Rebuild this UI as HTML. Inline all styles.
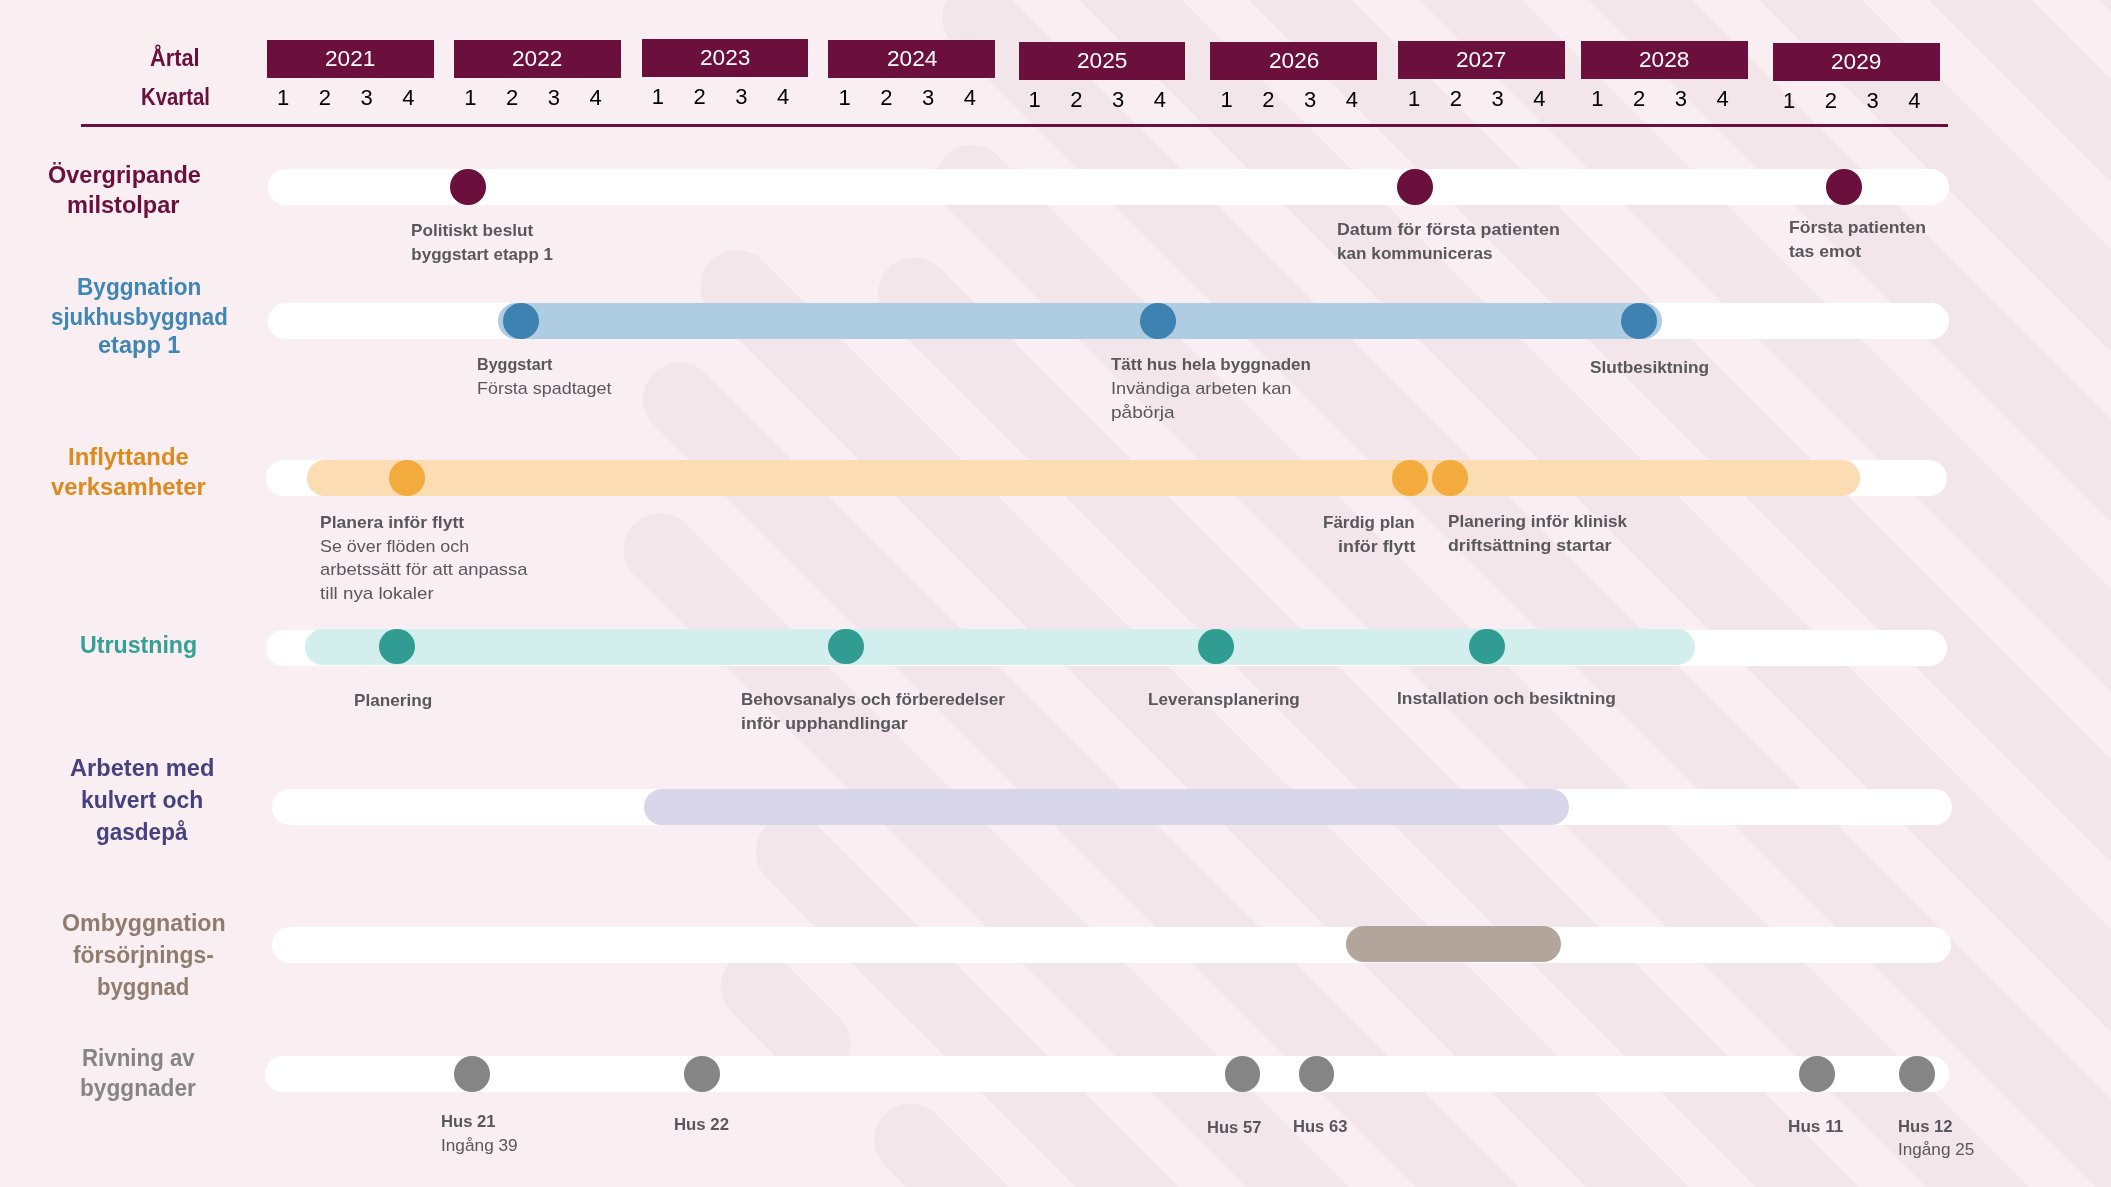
<!DOCTYPE html>
<html lang="sv"><head><meta charset="utf-8"><title>Tidplan</title>
<style>
html,body{margin:0;padding:0}
body{width:2111px;height:1187px;overflow:hidden;background:#f9eef2;font-family:"Liberation Sans",sans-serif}
#c{will-change:transform;position:absolute;left:0;top:0;width:2111px;height:1187px;overflow:hidden;background:#f9eef2}
.bg{position:absolute;left:0;top:0}
.t{position:absolute;line-height:1;white-space:nowrap;transform-origin:0 0;display:block}
.yb{position:absolute;background:#6b0f3c}
.ln{position:absolute;background:#6b0f3c}
.p{position:absolute;border-radius:18px}
.d{position:absolute;border-radius:50%}
</style></head>
<body>
<div id="c">
<svg class="bg" width="2111" height="1187" viewBox="0 0 2111 1187">
<g stroke="#f3e6ea" stroke-width="73.0" stroke-linecap="round" fill="none">
<line x1="757.1" y1="986.6" x2="814.3" y2="1043.8"/>
<line x1="910.6" y1="1140.1" x2="3510.6" y2="3740.1"/>
<line x1="792.4" y1="851.9" x2="3392.4" y2="3451.9"/>
<line x1="660.2" y1="549.7" x2="3260.2" y2="3149.7"/>
<line x1="679.5" y1="399.0" x2="3279.5" y2="2999.0"/>
<line x1="737.0" y1="286.5" x2="3337.0" y2="2886.5"/>
<line x1="914.4" y1="293.9" x2="3514.4" y2="2893.9"/>
<line x1="971.7" y1="181.2" x2="3571.7" y2="2781.2"/>
<line x1="978.7" y1="18.2" x2="3578.7" y2="2618.2"/>
<line x1="1030.5" y1="-100.0" x2="3630.5" y2="2500.0"/>
<line x1="1200.5" y1="-100.0" x2="3800.5" y2="2500.0"/>
<line x1="1370.5" y1="-100.0" x2="3970.5" y2="2500.0"/>
<line x1="1540.5" y1="-100.0" x2="4140.5" y2="2500.0"/>
<line x1="1710.5" y1="-100.0" x2="4310.5" y2="2500.0"/>
<line x1="1880.5" y1="-100.0" x2="4480.5" y2="2500.0"/>
<line x1="2050.5" y1="-100.0" x2="4650.5" y2="2500.0"/>
</g></svg>
<span class="t" style="left:150.40px;top:47.00px;font-size:23px;font-weight:bold;color:#6b0f3c;transform:scaleX(0.9450)">Årtal</span>
<span class="t" style="left:141.00px;top:86.00px;font-size:23px;font-weight:bold;color:#6b0f3c;transform:scaleX(0.8824)">Kvartal</span>
<div class="yb" style="left:266.9px;top:40.1px;width:166.9px;height:37.8px"></div>
<span class="t" style="left:325.15px;top:48.00px;font-size:22px;font-weight:normal;color:#ffffff;transform:scaleX(1.0296)">2021</span>
<span class="t" style="left:276.99px;top:87.00px;font-size:22px;font-weight:normal;color:#000000;transform:scaleX(1.0000)">1</span>
<span class="t" style="left:318.74px;top:87.00px;font-size:22px;font-weight:normal;color:#000000;transform:scaleX(1.0000)">2</span>
<span class="t" style="left:360.49px;top:87.00px;font-size:22px;font-weight:normal;color:#000000;transform:scaleX(1.0000)">3</span>
<span class="t" style="left:402.24px;top:87.00px;font-size:22px;font-weight:normal;color:#000000;transform:scaleX(1.0000)">4</span>
<div class="yb" style="left:454.2px;top:39.8px;width:166.9px;height:38.1px"></div>
<span class="t" style="left:512.45px;top:48.00px;font-size:22px;font-weight:normal;color:#ffffff;transform:scaleX(1.0296)">2022</span>
<span class="t" style="left:464.29px;top:87.00px;font-size:22px;font-weight:normal;color:#000000;transform:scaleX(1.0000)">1</span>
<span class="t" style="left:506.04px;top:87.00px;font-size:22px;font-weight:normal;color:#000000;transform:scaleX(1.0000)">2</span>
<span class="t" style="left:547.79px;top:87.00px;font-size:22px;font-weight:normal;color:#000000;transform:scaleX(1.0000)">3</span>
<span class="t" style="left:589.54px;top:87.00px;font-size:22px;font-weight:normal;color:#000000;transform:scaleX(1.0000)">4</span>
<div class="yb" style="left:641.6px;top:38.6px;width:166.9px;height:38.1px"></div>
<span class="t" style="left:699.85px;top:47.00px;font-size:22px;font-weight:normal;color:#ffffff;transform:scaleX(1.0296)">2023</span>
<span class="t" style="left:651.70px;top:86.00px;font-size:22px;font-weight:normal;color:#000000;transform:scaleX(1.0000)">1</span>
<span class="t" style="left:693.45px;top:86.00px;font-size:22px;font-weight:normal;color:#000000;transform:scaleX(1.0000)">2</span>
<span class="t" style="left:735.20px;top:86.00px;font-size:22px;font-weight:normal;color:#000000;transform:scaleX(1.0000)">3</span>
<span class="t" style="left:776.95px;top:86.00px;font-size:22px;font-weight:normal;color:#000000;transform:scaleX(1.0000)">4</span>
<div class="yb" style="left:828.4px;top:39.8px;width:166.8px;height:38.1px"></div>
<span class="t" style="left:886.60px;top:48.00px;font-size:22px;font-weight:normal;color:#ffffff;transform:scaleX(1.0296)">2024</span>
<span class="t" style="left:838.50px;top:87.00px;font-size:22px;font-weight:normal;color:#000000;transform:scaleX(1.0000)">1</span>
<span class="t" style="left:880.25px;top:87.00px;font-size:22px;font-weight:normal;color:#000000;transform:scaleX(1.0000)">2</span>
<span class="t" style="left:922.00px;top:87.00px;font-size:22px;font-weight:normal;color:#000000;transform:scaleX(1.0000)">3</span>
<span class="t" style="left:963.75px;top:87.00px;font-size:22px;font-weight:normal;color:#000000;transform:scaleX(1.0000)">4</span>
<div class="yb" style="left:1018.5px;top:42.1px;width:166.9px;height:37.8px"></div>
<span class="t" style="left:1076.75px;top:50.00px;font-size:22px;font-weight:normal;color:#ffffff;transform:scaleX(1.0296)">2025</span>
<span class="t" style="left:1028.60px;top:89.00px;font-size:22px;font-weight:normal;color:#000000;transform:scaleX(1.0000)">1</span>
<span class="t" style="left:1070.35px;top:89.00px;font-size:22px;font-weight:normal;color:#000000;transform:scaleX(1.0000)">2</span>
<span class="t" style="left:1112.10px;top:89.00px;font-size:22px;font-weight:normal;color:#000000;transform:scaleX(1.0000)">3</span>
<span class="t" style="left:1153.85px;top:89.00px;font-size:22px;font-weight:normal;color:#000000;transform:scaleX(1.0000)">4</span>
<div class="yb" style="left:1210.4px;top:42.1px;width:166.6px;height:37.8px"></div>
<span class="t" style="left:1268.50px;top:50.00px;font-size:22px;font-weight:normal;color:#ffffff;transform:scaleX(1.0296)">2026</span>
<span class="t" style="left:1220.50px;top:89.00px;font-size:22px;font-weight:normal;color:#000000;transform:scaleX(1.0000)">1</span>
<span class="t" style="left:1262.25px;top:89.00px;font-size:22px;font-weight:normal;color:#000000;transform:scaleX(1.0000)">2</span>
<span class="t" style="left:1304.00px;top:89.00px;font-size:22px;font-weight:normal;color:#000000;transform:scaleX(1.0000)">3</span>
<span class="t" style="left:1345.75px;top:89.00px;font-size:22px;font-weight:normal;color:#000000;transform:scaleX(1.0000)">4</span>
<div class="yb" style="left:1398.0px;top:41.2px;width:166.9px;height:37.5px"></div>
<span class="t" style="left:1456.25px;top:49.00px;font-size:22px;font-weight:normal;color:#ffffff;transform:scaleX(1.0296)">2027</span>
<span class="t" style="left:1408.10px;top:88.00px;font-size:22px;font-weight:normal;color:#000000;transform:scaleX(1.0000)">1</span>
<span class="t" style="left:1449.85px;top:88.00px;font-size:22px;font-weight:normal;color:#000000;transform:scaleX(1.0000)">2</span>
<span class="t" style="left:1491.60px;top:88.00px;font-size:22px;font-weight:normal;color:#000000;transform:scaleX(1.0000)">3</span>
<span class="t" style="left:1533.35px;top:88.00px;font-size:22px;font-weight:normal;color:#000000;transform:scaleX(1.0000)">4</span>
<div class="yb" style="left:1581.1px;top:41.2px;width:166.8px;height:37.8px"></div>
<span class="t" style="left:1639.30px;top:49.00px;font-size:22px;font-weight:normal;color:#ffffff;transform:scaleX(1.0296)">2028</span>
<span class="t" style="left:1591.19px;top:88.00px;font-size:22px;font-weight:normal;color:#000000;transform:scaleX(1.0000)">1</span>
<span class="t" style="left:1632.94px;top:88.00px;font-size:22px;font-weight:normal;color:#000000;transform:scaleX(1.0000)">2</span>
<span class="t" style="left:1674.69px;top:88.00px;font-size:22px;font-weight:normal;color:#000000;transform:scaleX(1.0000)">3</span>
<span class="t" style="left:1716.44px;top:88.00px;font-size:22px;font-weight:normal;color:#000000;transform:scaleX(1.0000)">4</span>
<div class="yb" style="left:1773.0px;top:42.6px;width:166.7px;height:38.1px"></div>
<span class="t" style="left:1831.15px;top:51.00px;font-size:22px;font-weight:normal;color:#ffffff;transform:scaleX(1.0296)">2029</span>
<span class="t" style="left:1783.10px;top:90.00px;font-size:22px;font-weight:normal;color:#000000;transform:scaleX(1.0000)">1</span>
<span class="t" style="left:1824.85px;top:90.00px;font-size:22px;font-weight:normal;color:#000000;transform:scaleX(1.0000)">2</span>
<span class="t" style="left:1866.60px;top:90.00px;font-size:22px;font-weight:normal;color:#000000;transform:scaleX(1.0000)">3</span>
<span class="t" style="left:1908.35px;top:90.00px;font-size:22px;font-weight:normal;color:#000000;transform:scaleX(1.0000)">4</span>
<div class="ln" style="left:80.5px;top:124px;width:1867.0px;height:3px"></div>
<div class="p" style="left:267.7px;top:168.9px;width:1681.4px;height:36.1px;background:#ffffff"></div>
<div class="d" style="left:450.2px;top:169.1px;width:35.6px;height:35.6px;background:#6b0f3c"></div>
<div class="d" style="left:1397.3px;top:169.1px;width:35.6px;height:35.6px;background:#6b0f3c"></div>
<div class="d" style="left:1826.3px;top:169.1px;width:35.6px;height:35.6px;background:#6b0f3c"></div>
<div class="p" style="left:267.7px;top:303.0px;width:1681.4px;height:36.0px;background:#ffffff"></div>
<div class="p" style="left:498.0px;top:302.9px;width:1164.0px;height:35.9px;background:#aecde3"></div>
<div class="d" style="left:503.4px;top:303.0px;width:35.6px;height:35.6px;background:#3d82b1"></div>
<div class="d" style="left:1140.2px;top:303.0px;width:35.6px;height:35.6px;background:#3d82b1"></div>
<div class="d" style="left:1621.3px;top:303.0px;width:35.6px;height:35.6px;background:#3d82b1"></div>
<div class="p" style="left:265.8px;top:460.0px;width:1680.9px;height:36.0px;background:#ffffff"></div>
<div class="p" style="left:307.0px;top:460.0px;width:1553.3px;height:36.0px;background:#fcdcb3"></div>
<div class="d" style="left:389.4px;top:460.2px;width:35.6px;height:35.6px;background:#f4ab3e"></div>
<div class="d" style="left:1392.4px;top:460.2px;width:35.6px;height:35.6px;background:#f4ab3e"></div>
<div class="d" style="left:1432.2px;top:460.2px;width:35.6px;height:35.6px;background:#f4ab3e"></div>
<div class="p" style="left:265.8px;top:630.0px;width:1680.9px;height:35.7px;background:#ffffff"></div>
<div class="p" style="left:305.3px;top:628.9px;width:1389.8px;height:36.5px;background:#d2efee"></div>
<div class="d" style="left:379.2px;top:628.9px;width:35.6px;height:35.6px;background:#309c92"></div>
<div class="d" style="left:828.1px;top:628.9px;width:35.6px;height:35.6px;background:#309c92"></div>
<div class="d" style="left:1198.2px;top:628.9px;width:35.6px;height:35.6px;background:#309c92"></div>
<div class="d" style="left:1469.2px;top:628.9px;width:35.6px;height:35.6px;background:#309c92"></div>
<div class="p" style="left:271.5px;top:788.9px;width:1680.8px;height:35.8px;background:#ffffff"></div>
<div class="p" style="left:644.1px;top:788.7px;width:924.6px;height:35.9px;background:#d8d6e8"></div>
<div class="p" style="left:271.5px;top:926.5px;width:1679.5px;height:36.1px;background:#ffffff"></div>
<div class="p" style="left:1346.0px;top:925.8px;width:215.3px;height:36.0px;background:#b3a49c"></div>
<div class="p" style="left:265.2px;top:1055.8px;width:1683.8px;height:36.2px;background:#ffffff"></div>
<div class="d" style="left:454.2px;top:1056.0px;width:35.6px;height:35.6px;background:#858585"></div>
<div class="d" style="left:684.4px;top:1056.0px;width:35.6px;height:35.6px;background:#858585"></div>
<div class="d" style="left:1224.5px;top:1056.0px;width:35.6px;height:35.6px;background:#858585"></div>
<div class="d" style="left:1298.5px;top:1056.0px;width:35.6px;height:35.6px;background:#858585"></div>
<div class="d" style="left:1799.3px;top:1056.0px;width:35.6px;height:35.6px;background:#858585"></div>
<div class="d" style="left:1899.2px;top:1056.0px;width:35.6px;height:35.6px;background:#858585"></div>
<span class="t" style="left:47.50px;top:164.00px;font-size:23px;font-weight:bold;color:#6b0f3c;transform:scaleX(1.0223)">Övergripande</span>
<span class="t" style="left:67.40px;top:194.00px;font-size:23px;font-weight:bold;color:#6b0f3c;transform:scaleX(1.0233)">milstolpar</span>
<span class="t" style="left:77.00px;top:276.00px;font-size:23px;font-weight:bold;color:#3f86b4;transform:scaleX(0.9826)">Byggnation</span>
<span class="t" style="left:50.60px;top:306.00px;font-size:23px;font-weight:bold;color:#3f86b4;transform:scaleX(0.9675)">sjukhusbyggnad</span>
<span class="t" style="left:97.50px;top:334.00px;font-size:23px;font-weight:bold;color:#3f86b4;transform:scaleX(1.0236)">etapp 1</span>
<span class="t" style="left:68.20px;top:446.00px;font-size:23px;font-weight:bold;color:#dc8a1e;transform:scaleX(1.0390)">Inflyttande</span>
<span class="t" style="left:51.20px;top:476.00px;font-size:23px;font-weight:bold;color:#dc8a1e;transform:scaleX(1.0353)">verksamheter</span>
<span class="t" style="left:80.40px;top:634.00px;font-size:23px;font-weight:bold;color:#35a094;transform:scaleX(1.0080)">Utrustning</span>
<span class="t" style="left:69.60px;top:757.00px;font-size:23px;font-weight:bold;color:#46417f;transform:scaleX(1.0271)">Arbeten med</span>
<span class="t" style="left:81.00px;top:789.00px;font-size:23px;font-weight:bold;color:#46417f;transform:scaleX(0.9959)">kulvert och</span>
<span class="t" style="left:96.10px;top:821.00px;font-size:23px;font-weight:bold;color:#46417f;transform:scaleX(0.9799)">gasdepå</span>
<span class="t" style="left:61.70px;top:912.00px;font-size:23px;font-weight:bold;color:#8f7c6f;transform:scaleX(1.0088)">Ombyggnation</span>
<span class="t" style="left:73.00px;top:944.00px;font-size:23px;font-weight:bold;color:#8f7c6f;transform:scaleX(0.9926)">försörjnings-</span>
<span class="t" style="left:96.60px;top:976.00px;font-size:23px;font-weight:bold;color:#8f7c6f;transform:scaleX(0.9640)">byggnad</span>
<span class="t" style="left:81.90px;top:1047.00px;font-size:23px;font-weight:bold;color:#858585;transform:scaleX(0.9697)">Rivning av</span>
<span class="t" style="left:80.20px;top:1077.00px;font-size:23px;font-weight:bold;color:#858585;transform:scaleX(0.9856)">byggnader</span>
<span class="t" style="left:411.30px;top:222.00px;font-size:17px;font-weight:bold;color:#58575a;transform:scaleX(1.0106)">Politiskt beslut</span>
<span class="t" style="left:411.30px;top:246.00px;font-size:17px;font-weight:bold;color:#58575a;transform:scaleX(1.0000)">byggstart etapp 1</span>
<span class="t" style="left:1336.50px;top:221.00px;font-size:17px;font-weight:bold;color:#58575a;transform:scaleX(1.0487)">Datum för första patienten</span>
<span class="t" style="left:1336.50px;top:245.00px;font-size:17px;font-weight:bold;color:#58575a;transform:scaleX(1.0096)">kan kommuniceras</span>
<span class="t" style="left:1789.40px;top:219.00px;font-size:17px;font-weight:bold;color:#58575a;transform:scaleX(1.0358)">Första patienten</span>
<span class="t" style="left:1789.40px;top:243.00px;font-size:17px;font-weight:bold;color:#58575a;transform:scaleX(1.0327)">tas emot</span>
<span class="t" style="left:477.00px;top:356.00px;font-size:17px;font-weight:bold;color:#58575a;transform:scaleX(0.9490)">Byggstart</span>
<span class="t" style="left:477.00px;top:380.00px;font-size:17px;font-weight:normal;color:#58575a;transform:scaleX(1.0542)">Första spadtaget</span>
<span class="t" style="left:1110.50px;top:356.00px;font-size:17px;font-weight:bold;color:#58575a;transform:scaleX(0.9982)">Tätt hus hela byggnaden</span>
<span class="t" style="left:1110.50px;top:380.00px;font-size:17px;font-weight:normal;color:#58575a;transform:scaleX(1.0728)">Invändiga arbeten kan</span>
<span class="t" style="left:1110.50px;top:404.00px;font-size:17px;font-weight:normal;color:#58575a;transform:scaleX(1.1227)">påbörja</span>
<span class="t" style="left:1590.40px;top:359.00px;font-size:17px;font-weight:bold;color:#58575a;transform:scaleX(1.0168)">Slutbesiktning</span>
<span class="t" style="left:319.80px;top:514.00px;font-size:17px;font-weight:bold;color:#58575a;transform:scaleX(1.0306)">Planera inför flytt</span>
<span class="t" style="left:319.80px;top:538.00px;font-size:17px;font-weight:normal;color:#58575a;transform:scaleX(1.0523)">Se över flöden och</span>
<span class="t" style="left:319.80px;top:561.00px;font-size:17px;font-weight:normal;color:#58575a;transform:scaleX(1.0816)">arbetssätt för att anpassa</span>
<span class="t" style="left:319.80px;top:585.00px;font-size:17px;font-weight:normal;color:#58575a;transform:scaleX(1.1041)">till nya lokaler</span>
<span class="t" style="left:1323.30px;top:514.00px;font-size:17px;font-weight:bold;color:#58575a;transform:scaleX(0.9997)">Färdig plan</span>
<span class="t" style="left:1337.50px;top:538.00px;font-size:17px;font-weight:bold;color:#58575a;transform:scaleX(1.0509)">inför flytt</span>
<span class="t" style="left:1447.60px;top:513.00px;font-size:17px;font-weight:bold;color:#58575a;transform:scaleX(1.0078)">Planering inför klinisk</span>
<span class="t" style="left:1447.60px;top:537.00px;font-size:17px;font-weight:bold;color:#58575a;transform:scaleX(1.0422)">driftsättning startar</span>
<span class="t" style="left:353.90px;top:692.00px;font-size:17px;font-weight:bold;color:#58575a;transform:scaleX(1.0093)">Planering</span>
<span class="t" style="left:741.00px;top:691.00px;font-size:17px;font-weight:bold;color:#58575a;transform:scaleX(1.0050)">Behovsanalys och förberedelser</span>
<span class="t" style="left:741.00px;top:715.00px;font-size:17px;font-weight:bold;color:#58575a;transform:scaleX(1.0385)">inför upphandlingar</span>
<span class="t" style="left:1147.50px;top:691.00px;font-size:17px;font-weight:bold;color:#58575a;transform:scaleX(1.0042)">Leveransplanering</span>
<span class="t" style="left:1397.20px;top:690.00px;font-size:17px;font-weight:bold;color:#58575a;transform:scaleX(1.0209)">Installation och besiktning</span>
<span class="t" style="left:440.60px;top:1113.00px;font-size:17px;font-weight:bold;color:#58575a;transform:scaleX(0.9792)">Hus 21</span>
<span class="t" style="left:440.60px;top:1137.00px;font-size:17px;font-weight:normal;color:#58575a;transform:scaleX(1.0139)">Ingång 39</span>
<span class="t" style="left:673.60px;top:1116.00px;font-size:17px;font-weight:bold;color:#58575a;transform:scaleX(0.9864)">Hus 22</span>
<span class="t" style="left:1206.80px;top:1119.00px;font-size:17px;font-weight:bold;color:#58575a;transform:scaleX(0.9756)">Hus 57</span>
<span class="t" style="left:1292.80px;top:1118.00px;font-size:17px;font-weight:bold;color:#58575a;transform:scaleX(0.9756)">Hus 63</span>
<span class="t" style="left:1788.20px;top:1118.00px;font-size:17px;font-weight:bold;color:#58575a;transform:scaleX(1.0087)">Hus 11</span>
<span class="t" style="left:1897.70px;top:1118.00px;font-size:17px;font-weight:bold;color:#58575a;transform:scaleX(0.9792)">Hus 12</span>
<span class="t" style="left:1897.70px;top:1141.00px;font-size:17px;font-weight:normal;color:#58575a;transform:scaleX(1.0086)">Ingång 25</span>
</div>
</body></html>
